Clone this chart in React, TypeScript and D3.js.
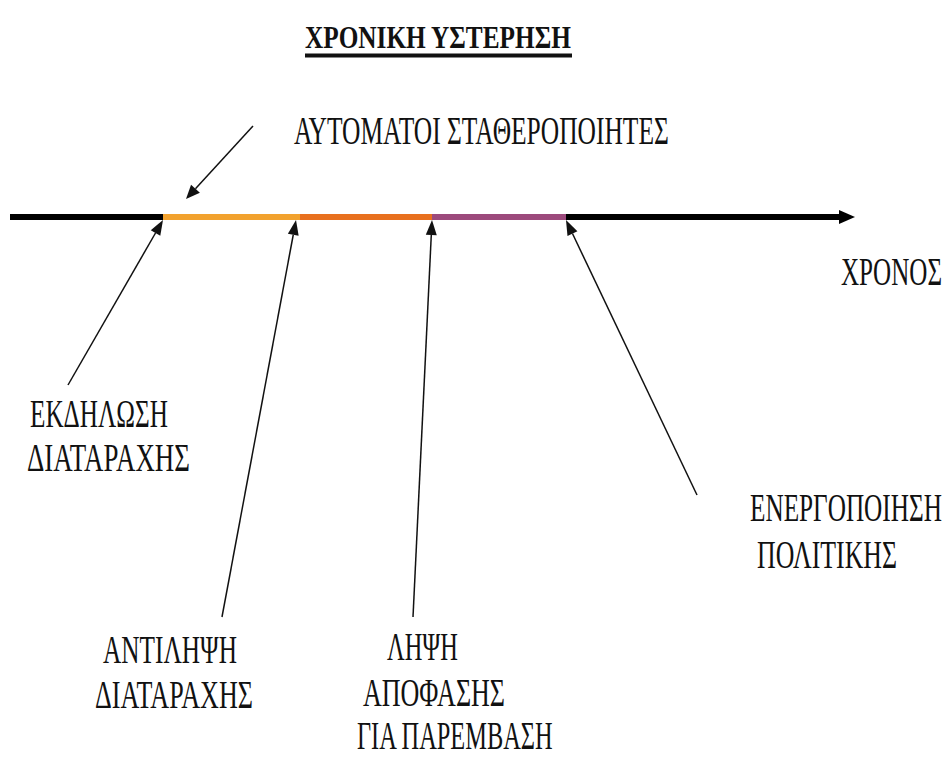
import React from "react";
import * as d3 from "d3";

// ---- data ----
const timelineStart = 0;
const timelineEnd = 845;
const eventNames = ["ΕΚΔΗΛΩΣΗ ΔΙΑΤΑΡΑΧΗΣ", "ΑΝΤΙΛΗΨΗ ΔΙΑΤΑΡΑΧΗΣ", "ΛΗΨΗ ΑΠΟΦΑΣΗΣ ΓΙΑ ΠΑΡΕΜΒΑΣΗ", "ΕΝΕΡΓΟΠΟΙΗΣΗ ΠΟΛΙΤΙΚΗΣ"];
const eventTimes = [153, 286, 422, 556];
const eventLabelLines = [
  ["ΕΚΔΗΛΩΣΗ", "ΔΙΑΤΑΡΑΧΗΣ"],
  ["ΑΝΤΙΛΗΨΗ", "ΔΙΑΤΑΡΑΧΗΣ"],
  ["ΛΗΨΗ", "ΑΠΟΦΑΣΗΣ", "ΓΙΑ ΠΑΡΕΜΒΑΣΗ"],
  ["ΕΝΕΡΓΟΠΟΙΗΣΗ", "ΠΟΛΙΤΙΚΗΣ"],
];
const segmentStarts = [153, 290, 422];
const segmentEnds = [290, 422, 556];
const titleText = "ΧΡΟΝΙΚΗ ΥΣΤΕΡΗΣΗ";
const stabilizersText = "ΑΥΤΟΜΑΤΟΙ ΣΤΑΘΕΡΟΠΟΙΗΤΕΣ";
const axisLabel = "ΧΡΟΝΟΣ";
const stabilizerTime = 176;

// ---- layout / styles ----
const W = 949;
const H = 758;
const axisY = 217;
const segmentColors = ["#f2a22e", "#e8701e", "#9c4a7c"];
// text boxes: [x, baseline, width] per line
const eventLabelBoxes = [
  [[30, 427, 138], [27, 471, 163]],
  [[103, 663, 134], [95, 708, 158]],
  [[387, 660, 71], [363, 706, 142], [357, 749, 197]],
  [[750, 521, 192], [757, 568, 140]],
];
const eventTails = [[68, 385], [222, 617], [413, 617], [697, 495]];
const FONT = "'Liberation Serif', 'DejaVu Serif', serif";

let measureCtx: CanvasRenderingContext2D | null = null;
function measure(t: string, size: number, bold: boolean): number {
  if (!measureCtx) {
    const c = document.createElement("canvas");
    measureCtx = c.getContext("2d");
  }
  if (!measureCtx) return t.length * size * 0.6;
  measureCtx.font = `${bold ? "bold " : ""}${size}px ${FONT}`;
  return measureCtx.measureText(t).width || t.length * size * 0.6;
}

export default function App() {
  const x = d3.scaleLinear().domain([timelineStart, timelineEnd]).range([10, 855]);

  const arrowLine = (x1: number, y1: number, x2: number, y2: number, key: string, head = 15, half = 5.5, sw = 1.5) => {
    const ang = Math.atan2(y2 - y1, x2 - x1);
    const bx = x2 - head * Math.cos(ang);
    const by = y2 - head * Math.sin(ang);
    const px = -Math.sin(ang) * half;
    const py = Math.cos(ang) * half;
    const tri = d3.path();
    tri.moveTo(x2, y2);
    tri.lineTo(bx + px, by + py);
    tri.lineTo(bx - px, by - py);
    tri.closePath();
    return (
      <g key={key}>
        <line x1={x1} y1={y1} x2={bx} y2={by} stroke="#111" strokeWidth={sw} />
        <path d={tri.toString()} fill="#111" />
      </g>
    );
  };

  // text squeezed horizontally to the width it has in the picture
  const label = (t: string, bx: number, by: number, w: number, key: string, size = 40, bold = false) => {
    const natural = measure(t, size, bold);
    const sx = w / natural;
    return (
      <text
        key={key}
        transform={`translate(${bx},${by}) scale(${sx},1)`}
        x={0}
        y={0}
        fontFamily={FONT}
        fontSize={size}
        fontWeight={bold ? "bold" : "normal"}
        fill="#111"
      >
        {t}
      </text>
    );
  };

  const axisEndX = x(timelineEnd);

  return (
    <svg
      width={W}
      height={H}
      style={{ position: "absolute", left: 0, top: 0, background: "#fff" }}
      xmlns="http://www.w3.org/2000/svg"
    >
      <rect width={W} height={H} fill="#fff" />
      {/* title */}
      {label(titleText, 305, 48, 267, "title", 31, true)}
      <rect x={305} y={53.5} width={267} height={4} fill="#111" />

      {/* timeline */}
      <line x1={x(timelineStart)} y1={axisY} x2={axisEndX - 14} y2={axisY} stroke="#000" strokeWidth={6} />
      <path
        d={`M${axisEndX},${axisY} L${axisEndX - 16},${axisY - 7} L${axisEndX - 16},${axisY + 7} Z`}
        fill="#000"
      />
      {segmentStarts.map((s, i) => (
        <line
          key={"seg" + i}
          x1={x(s)}
          x2={x(segmentEnds[i])}
          y1={axisY}
          y2={axisY}
          stroke={segmentColors[i]}
          strokeWidth={6}
        />
      ))}
      {label(axisLabel, 841, 285, 101, "axis")}

      {/* automatic stabilizers */}
      {arrowLine(253, 126, x(stabilizerTime), 199, "stab", 14, 6)}
      {label(stabilizersText, 294, 144, 375, "stabtxt")}

      {/* events */}
      {eventNames.map((name, i) => (
        <g key={name}>
          {arrowLine(eventTails[i][0], eventTails[i][1], x(eventTimes[i]), axisY + 3, "ev" + i, 15, 5.5)}
          {eventLabelLines[i].map((ln, j) =>
            label(ln, eventLabelBoxes[i][j][0], eventLabelBoxes[i][j][1], eventLabelBoxes[i][j][2], `l${i}-${j}`)
          )}
        </g>
      ))}
    </svg>
  );
}
